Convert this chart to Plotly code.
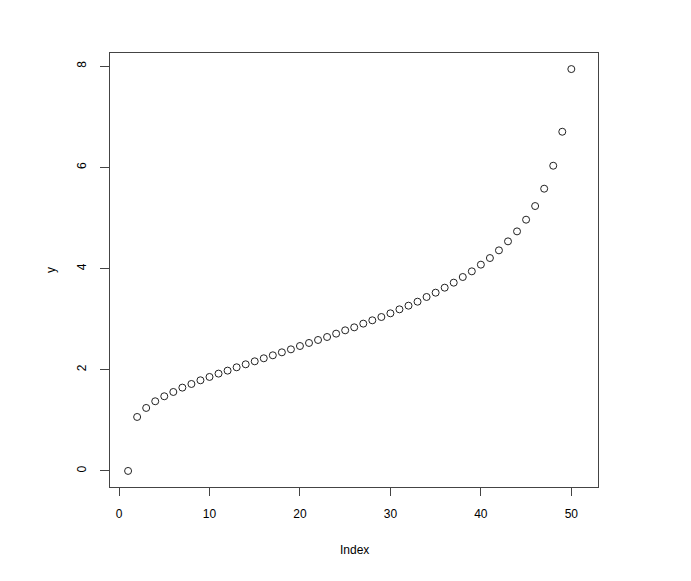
import plotly.graph_objects as go

index = list(range(1, 51))
y = [0.000, 1.067, 1.245, 1.377, 1.476, 1.561, 1.647, 1.719, 1.792, 1.858,
     1.924, 1.983, 2.049, 2.108, 2.167, 2.227, 2.286, 2.345, 2.404, 2.470,
     2.530, 2.589, 2.648, 2.714, 2.780, 2.839, 2.912, 2.978, 3.043, 3.116,
     3.195, 3.267, 3.346, 3.439, 3.524, 3.623, 3.722, 3.834, 3.946, 4.078,
     4.209, 4.361, 4.539, 4.736, 4.967, 5.237, 5.580, 6.034, 6.706, 7.945]
x_ticks = [0, 10, 20, 30, 40, 50]
y_ticks = [0, 2, 4, 6, 8]
x_range = [-1.0, 52.95]

def ext(lo, hi):
    d = (hi - lo) * 0.04
    return [lo - d, hi + d]

font = dict(family="Liberation Sans, Arial, sans-serif", size=12, color="#000000")

fig = go.Figure(go.Scatter(
    x=index, y=y, mode="markers",
    marker=dict(symbol="circle-open", size=7, color="#222222", line=dict(width=1, color="#222222")),
))

fig.update_layout(
    width=683, height=573,
    margin=dict(l=102, r=93, t=45, b=94),
    paper_bgcolor="white", plot_bgcolor="white",
    showlegend=False, font=font,
    xaxis=dict(range=x_range, tickvals=x_ticks, ticks="outside",
               ticklen=8, tickcolor="#444444", showgrid=False, zeroline=False,
               showline=True, mirror=True, linecolor="#444444", linewidth=1,
               ticklabelstandoff=8, tickfont=font),
    yaxis=dict(range=ext(min(y), max(y)), tickvals=y_ticks, ticks="outside",
               ticklen=9, tickcolor="#444444", showgrid=False, zeroline=False,
               showline=True, mirror=True, linecolor="#444444", linewidth=1,
               tickangle=-90, ticklabelstandoff=9, tickfont=font),
    annotations=[
        dict(text="Index", x=0.5, y=-0.146, xref="paper", yref="paper",
             showarrow=False, xanchor="center", yanchor="middle", font=font),
        dict(text="y", x=-0.121, y=0.5, xref="paper", yref="paper",
             showarrow=False, xanchor="center", yanchor="middle", textangle=-90, font=font),
    ],
)

fig.write_html("out.html")
